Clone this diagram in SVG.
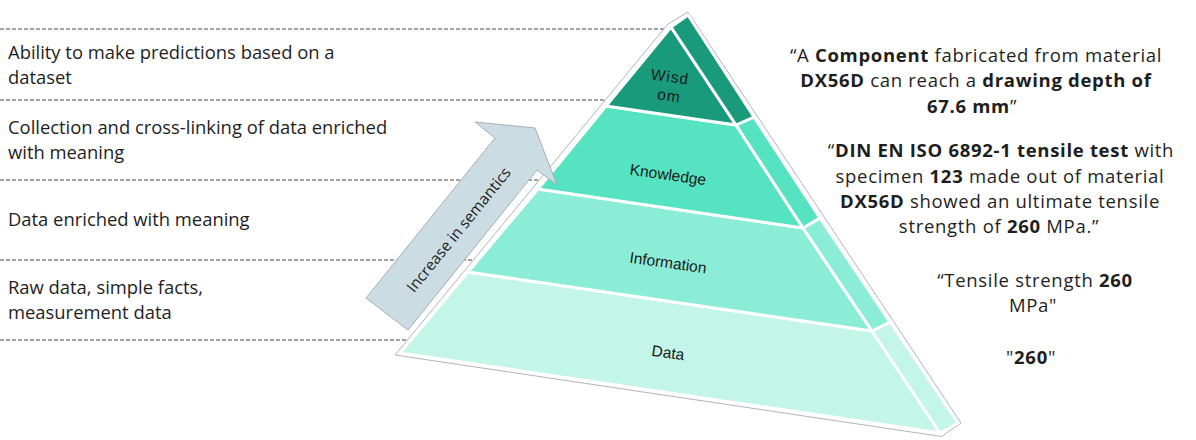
<svg xmlns="http://www.w3.org/2000/svg" width="1196" height="440" viewBox="0 0 1196 440">
<style>
.bg{fill:#ffffff}
.dash{stroke:#444;stroke-width:1;stroke-dasharray:4 2;fill:none}
.lt{font-family:"Open Sans","Liberation Sans",sans-serif;font-size:18.4px;fill:#1e1e1e}
.rt{font-family:"Open Sans","Liberation Sans",sans-serif;font-size:18.5px;letter-spacing:0.7px;fill:#1e1e1e;text-anchor:middle}
.rt tspan.b{font-weight:700}
.pl{font-family:"Liberation Sans",Arial,sans-serif;font-size:15.5px;fill:#1a1a1a;text-anchor:middle}
.face{stroke:#ffffff;stroke-width:3;stroke-linejoin:round}
.wis{fill:#199b7b}
.kno{fill:#55e3c1}
.inf{fill:#8cedd6}
.dat{fill:#c3f5e8}
.sil{fill:#ffffff;stroke:#b4b4b4;stroke-width:1}
.arrow{fill:#cbdde3;stroke:#a3afb5;stroke-width:1}
.at{font-family:"Open Sans","Liberation Sans",sans-serif;font-size:15.5px;fill:#1e1e1e;text-anchor:middle}
</style>
<rect class="bg" x="0" y="0" width="1196" height="440"/>
<g id="connectors">
<line class="dash" x1="0" y1="29" x2="672" y2="29"/>
<line class="dash" x1="0" y1="100" x2="612" y2="100"/>
<line class="dash" x1="0" y1="180" x2="545" y2="180"/>
<line class="dash" x1="0" y1="260" x2="478" y2="260"/>
<line class="dash" x1="0" y1="340" x2="412" y2="340"/>
</g>
<g id="descriptions">
<text class="lt" x="8" y="59">Ability to make predictions based on a</text>
<text class="lt" x="8" y="84">dataset</text>
<text class="lt" x="8" y="134">Collection and cross-linking of data enriched</text>
<text class="lt" x="8" y="159">with meaning</text>
<text class="lt" x="8" y="226">Data enriched with meaning</text>
<text class="lt" x="8" y="294">Raw data, simple facts,</text>
<text class="lt" x="8" y="319">measurement data</text>
</g>
<g id="pyramid">
<polygon class="sil" points="668,24 688,12 961,423 941.5,436.5 395,355"/>
<g id="data">
<polygon class="face dat" points="468,272 872,331 940,433 400,353"/>
<polygon class="face dat" points="872,331 890,322 958,423 940,433"/>
<text class="pl" x="668" y="358" transform="rotate(8 668 353)">Data</text>
</g>
<g id="information">
<polygon class="face inf" points="538,189 803,228 872,331 468,272"/>
<polygon class="face inf" points="803,228 820,218 890,322 872,331"/>
<text class="pl" x="668" y="268" transform="rotate(8 668 263)">Information</text>
</g>
<g id="knowledge">
<polygon class="face kno" points="606,106 736,125 803,228 538,189"/>
<polygon class="face kno" points="736,125 754,117 820,218 803,228"/>
<text class="pl" x="668" y="180" transform="rotate(8 668 175)">Knowledge</text>
</g>
<g id="wisdom">
<polygon class="face wis" points="671,27 736,125 606,106"/>
<polygon class="face wis" points="671,27 688,15 754,117 736,125"/>
<text class="pl" x="670" y="82" letter-spacing="1" transform="rotate(8 670 77)">Wisd</text>
<text class="pl" x="669" y="101" letter-spacing="1" transform="rotate(8 669 96)">om</text>
</g>
</g>
<g id="arrow">
<polygon class="arrow" points="366,298 495,138 475,122 535,128 557,185 537,170 408,330"/>
<text class="at" x="459" y="235" transform="rotate(-51 459 230)">Increase in semantics</text>
</g>
<g id="examples">
<text class="rt" x="976" y="62">“A <tspan class="b">Component</tspan> fabricated from material</text>
<text class="rt" x="976" y="87"><tspan class="b">DX56D</tspan> can reach a <tspan class="b">drawing depth of</tspan></text>
<text class="rt" x="972" y="113"><tspan class="b">67.6 mm</tspan>”</text>
<text class="rt" x="1001" y="157">“<tspan class="b">DIN EN ISO 6892-1 tensile test</tspan> with</text>
<text class="rt" x="1000" y="183">specimen <tspan class="b">123</tspan> made out of material</text>
<text class="rt" x="1000" y="208"><tspan class="b">DX56D</tspan> showed an ultimate tensile</text>
<text class="rt" x="999" y="233">strength of <tspan class="b">260</tspan> MPa.”</text>
<text class="rt" x="1035" y="287">“Tensile strength <tspan class="b">260</tspan></text>
<text class="rt" x="1033" y="312">MPa"</text>
<text class="rt" x="1031" y="364">"<tspan class="b">260</tspan>"</text>
</g>
</svg>
